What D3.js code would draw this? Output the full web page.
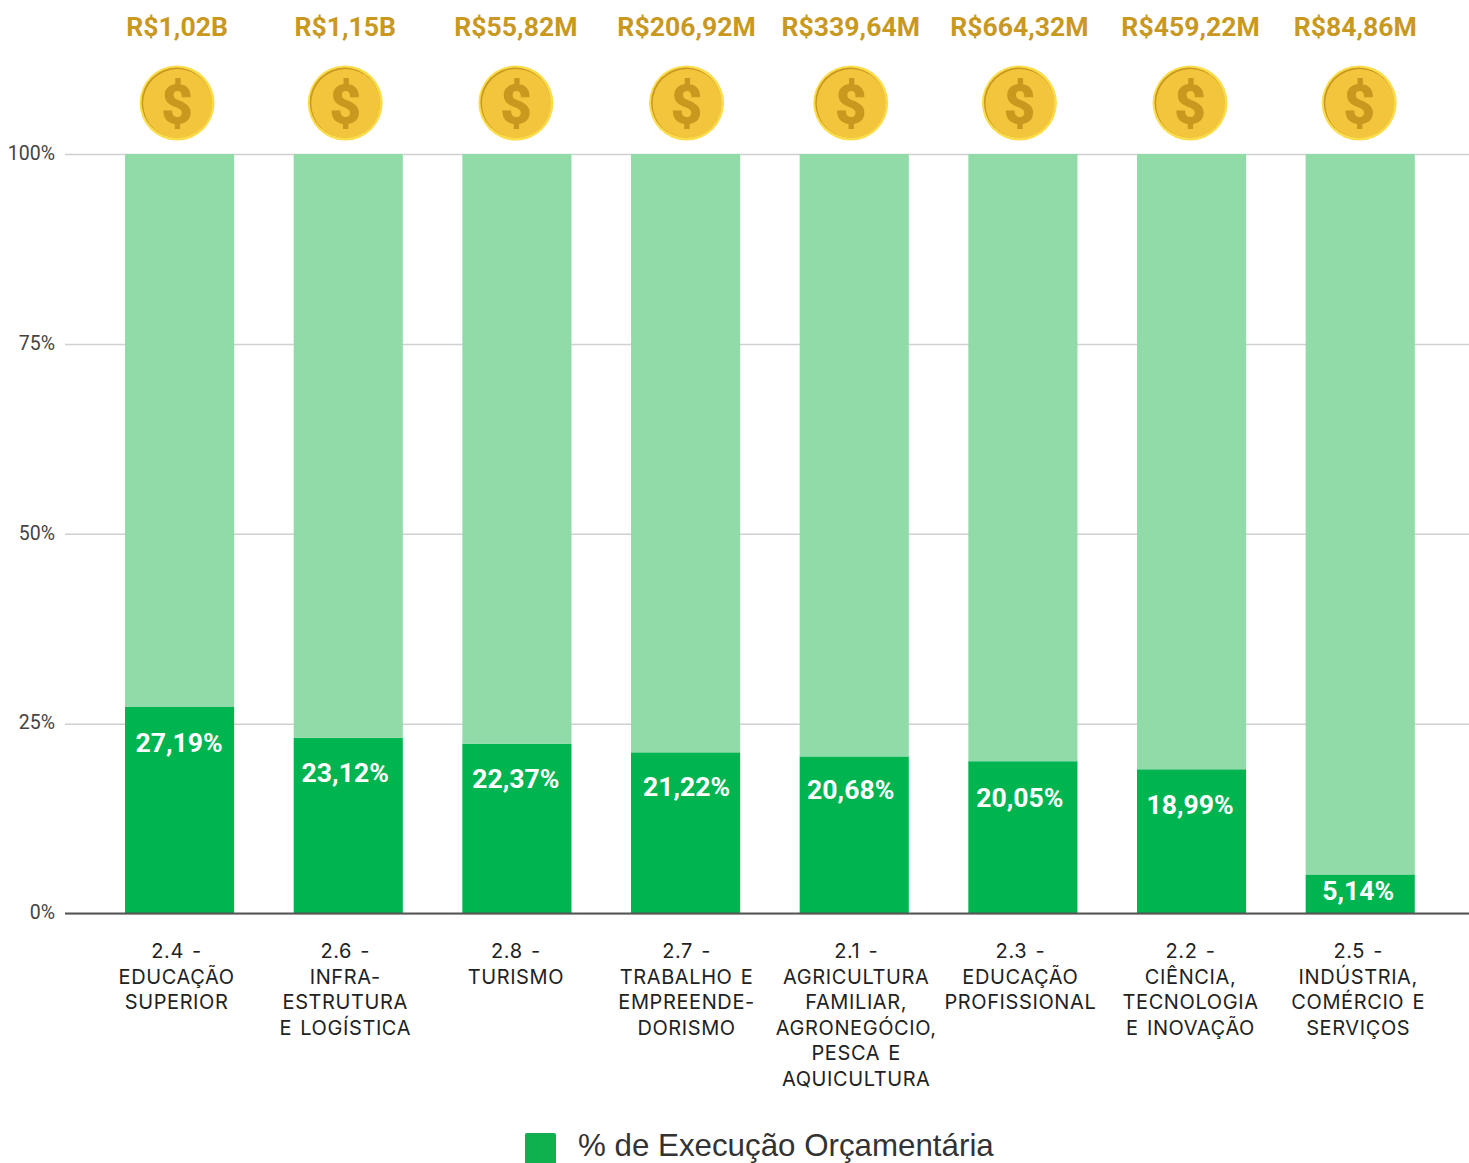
<!DOCTYPE html>
<html lang="pt-BR">
<head>
    <meta charset="UTF-8">
    <title>% de Execução Orçamentária</title>
    <script src="https://d3js.org/d3.v7.min.js"></script>
    <style>
        body { margin: 0; background: #fff; }
        svg { display: block; }
        .tick-label { font: 19.5px Roboto, sans-serif; fill: #444; }
        .budget { font: bold 26.6px Roboto, sans-serif; fill: #c9981f; text-anchor: middle; }
        .pct { font: bold 26.6px Roboto, sans-serif; fill: #fff; text-anchor: middle; }
        .cat { font: 20px Inter, sans-serif; fill: #222; text-anchor: middle; letter-spacing: 0.6px; word-spacing: 2px; }
        .legend { font: 31.3px "Liberation Sans", Arial, sans-serif; fill: #333; }
    </style>
</head>
<body>
<svg id="chart" width="1469" height="1163"></svg>
<script>
    const categories = ["2.4", "2.6", "2.8", "2.7", "2.1", "2.3", "2.2", "2.5"];
    const categoryLines = [
        ["2.4 -", "EDUCAÇÃO", "SUPERIOR"],
        ["2.6 -", "INFRA-", "ESTRUTURA", "E LOGÍSTICA"],
        ["2.8 -", "TURISMO"],
        ["2.7 -", "TRABALHO E", "EMPREENDE-", "DORISMO"],
        ["2.1 -", "AGRICULTURA", "FAMILIAR,", "AGRONEGÓCIO,", "PESCA E", "AQUICULTURA"],
        ["2.3 -", "EDUCAÇÃO", "PROFISSIONAL"],
        ["2.2 -", "CIÊNCIA,", "TECNOLOGIA", "E INOVAÇÃO"],
        ["2.5 -", "INDÚSTRIA,", "COMÉRCIO E", "SERVIÇOS"]
    ];
    const executed = [27.19, 23.12, 22.37, 21.22, 20.68, 20.05, 18.99, 5.14];
    const remaining = [72.81, 76.88, 77.63, 78.78, 79.32, 79.95, 81.01, 94.86];
    const pctLabels = ["27,19%", "23,12%", "22,37%", "21,22%", "20,68%", "20,05%", "18,99%", "5,14%"];
    const budgets = ["R$1,02B", "R$1,15B", "R$55,82M", "R$206,92M", "R$339,64M", "R$664,32M", "R$459,22M", "R$84,86M"];
    const yTicks = [0, 25, 50, 75, 100];

    // the labels and coins in the original were placed by hand, so they sit a bit off the bar centre
    const coinNudge = [-2.5, -3, -1, 1, -3.5, -3.5, -1.5, -1];
    const budgetNudge = [-2.5, -3, -1, 1, -3.5, -3.5, -1, -5];
    const pctNudge = [-0.5, -3, -1, 1, -3.5, -3, -1.5, -2];
    const pctDrop = [45, 44, 44, 43.5, 42.5, 46, 44.5, 26];
    const catNudge = [-3, -3, -1, 1, 2, -2.5, -1, -2];

    const svg = d3.select("#chart");

    const x = d3.scaleBand()
        .domain(categories)
        .range([95.5, 1444.3])
        .paddingInner(0.353)
        .paddingOuter(0.175);

    const y = d3.scaleLinear()
        .domain([0, 100])
        .range([913.5, 154]);

    // Gridlines and tick labels
    const axis = svg.append("g")
        .attr("transform", "translate(65,0)")
        .call(d3.axisLeft(y).tickValues(yTicks).tickSize(-1404).tickPadding(10).tickFormat(d => d + "%"));
    axis.select(".domain").remove();
    axis.selectAll(".tick line").attr("stroke", "#d0d0d0").attr("stroke-width", 1.5);
    axis.selectAll(".tick text")
        .attr("class", "tick-label")
        .attr("fill", null)
        .attr("dy", "0.27em");

    // Stacked bars
    const rows = categories.map((c, i) => ({ cat: c, executed: executed[i], remaining: remaining[i] }));
    const series = d3.stack().keys(["executed", "remaining"])(rows);
    const colors = { executed: "#00b44f", remaining: "#90dba7" };

    svg.selectAll(".layer")
        .data(series)
        .enter()
        .append("g")
        .attr("fill", d => colors[d.key])
        .selectAll("rect")
        .data(d => d)
        .enter()
        .append("rect")
        .attr("x", d => x(d.data.cat))
        .attr("y", d => y(d[1]))
        .attr("width", x.bandwidth())
        .attr("height", d => y(d[0]) - y(d[1]));

    // Baseline goes on top of the bars
    svg.append("line")
        .attr("x1", 65)
        .attr("x2", 1469)
        .attr("y1", y(0))
        .attr("y2", y(0))
        .attr("stroke", "#555")
        .attr("stroke-width", 2);

    const mid = i => x(categories[i]) + x.bandwidth() / 2;

    // Values inside the bars
    svg.selectAll(".pct")
        .data(pctLabels)
        .enter()
        .append("text")
        .attr("class", "pct")
        .attr("x", (d, i) => mid(i) + pctNudge[i])
        .attr("y", (d, i) => y(executed[i]) + pctDrop[i])
        .text(d => d);

    // Budget text on top
    svg.selectAll(".budget")
        .data(budgets)
        .enter()
        .append("text")
        .attr("class", "budget")
        .attr("x", (d, i) => mid(i) + budgetNudge[i])
        .attr("y", 36)
        .text(d => d);

    // Coins
    const coins = svg.selectAll(".coin")
        .data(categories)
        .enter()
        .append("g")
        .attr("transform", (d, i) => `translate(${mid(i) + coinNudge[i]},103)`);

    coins.append("circle").attr("r", 37.5).attr("fill", "#fbdc4b");
    coins.append("circle").attr("r", 35).attr("cx", -0.5).attr("cy", -0.5).attr("fill", "#c9981f");
    coins.append("circle").attr("r", 34.5).attr("cx", 0.5).attr("cy", 0.5).attr("fill", "#f2c53d");
    coins.append("text")
        .attr("text-anchor", "middle")
        .attr("y", 20)
        .attr("font-family", "Roboto, sans-serif")
        .attr("font-weight", "bold")
        .attr("font-size", 54)
        .attr("fill", "#c9981f")
        .attr("stroke", "#c9981f")
        .attr("stroke-width", 1.2)
        .text("$");

    // Category labels
    const cats = svg.selectAll(".cat")
        .data(categoryLines)
        .enter()
        .append("text")
        .attr("class", "cat")
        .attr("y", 958);

    cats.selectAll("tspan")
        .data((d, i) => d.map(line => ({ line, i })))
        .enter()
        .append("tspan")
        .attr("x", d => mid(d.i) + catNudge[d.i])
        .attr("dy", (d, j) => j === 0 ? 0 : 25.6)
        .text(d => d.line);

    // Legend
    svg.append("rect")
        .attr("x", 525)
        .attr("y", 1133)
        .attr("width", 31)
        .attr("height", 32)
        .attr("rx", 2)
        .attr("fill", "#0fb14f");

    svg.append("text")
        .attr("class", "legend")
        .attr("x", 578)
        .attr("y", 1156)
        .text("% de Execução Orçamentária");
</script>
</body>
</html>
